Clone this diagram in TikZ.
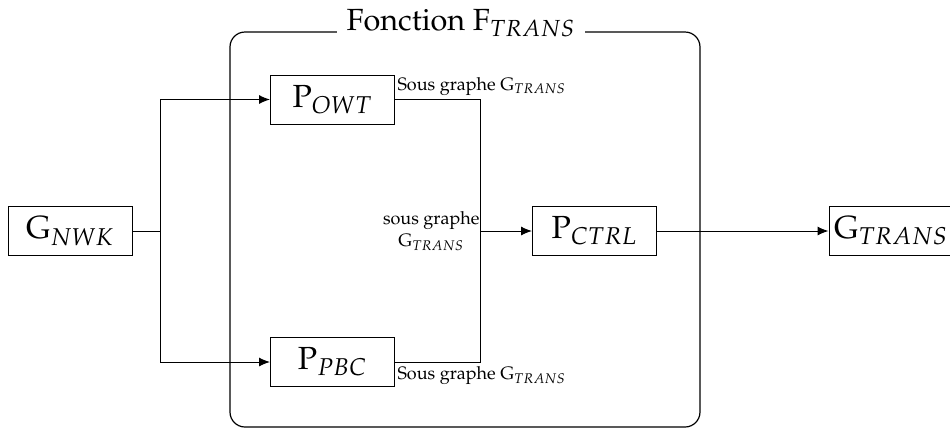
\documentclass[tikz,border=0pt]{standalone}
\usepackage[T1]{fontenc}
\usepackage{mathpazo}
\usetikzlibrary{arrows.meta}
\newcommand{\bigfnt}{\fontsize{16}{19}\selectfont}
\newcommand{\titlefnt}{\fontsize{15.3}{18}\selectfont}
\begin{document}
\begin{tikzpicture}[x=0.5pt,y=-0.5pt,
  box/.style={draw, minimum width=62pt, minimum height=24.5pt, inner sep=0pt, font=\bigfnt},
  lbl/.style={font=\small, inner sep=1pt},
  arr/.style={-{Latex[length=5.5pt,width=4.5pt]}},
  line width=0.5pt]
\useasboundingbox (0,0) rectangle (950,430);
\draw[rounded corners=7.5pt, line width=0.6pt] (230,32) rectangle (700,427);
\node[fill=white, font=\titlefnt, inner xsep=5pt, inner ysep=1pt] (title) at (461,23) {Fonction F$_{TRANS}$};
\node[box] (gnwk) at (70,231) {G$_{NWK}$};
\node[box] (powt) at (332.5,99.5) {P$_{OWT}$};
\node[box] (ppbc) at (332.5,362) {P$_{PBC}$};
\node[box] (pctrl) at (594.5,231) {P$_{CTRL}$};
\node[box] (gtrans) at (891,231) {G$_{TRANS}$};
\coordinate (split) at (160,231);
\coordinate (merge) at (480,231);
\draw (gnwk.east) -- (split);
\draw[arr] (split) |- (powt.west);
\draw[arr] (split) |- (ppbc.west);
\draw (powt.east) -| (merge);
\draw (ppbc.east) -| (merge);
\draw[arr] (merge) -- (pctrl.west);
\draw[arr] (pctrl.east) -- (gtrans.west);
\node[lbl, anchor=north west] (l1) at (powt.north east) {Sous graphe G$_{TRANS}$};
\node[lbl, anchor=south west] (l2) at (ppbc.south east) {Sous graphe G$_{TRANS}$};
\node[lbl, anchor=east, align=center, inner sep=0pt] (l3) at (merge) {sous graphe\\G$_{TRANS}$};
\end{tikzpicture}
\end{document}
